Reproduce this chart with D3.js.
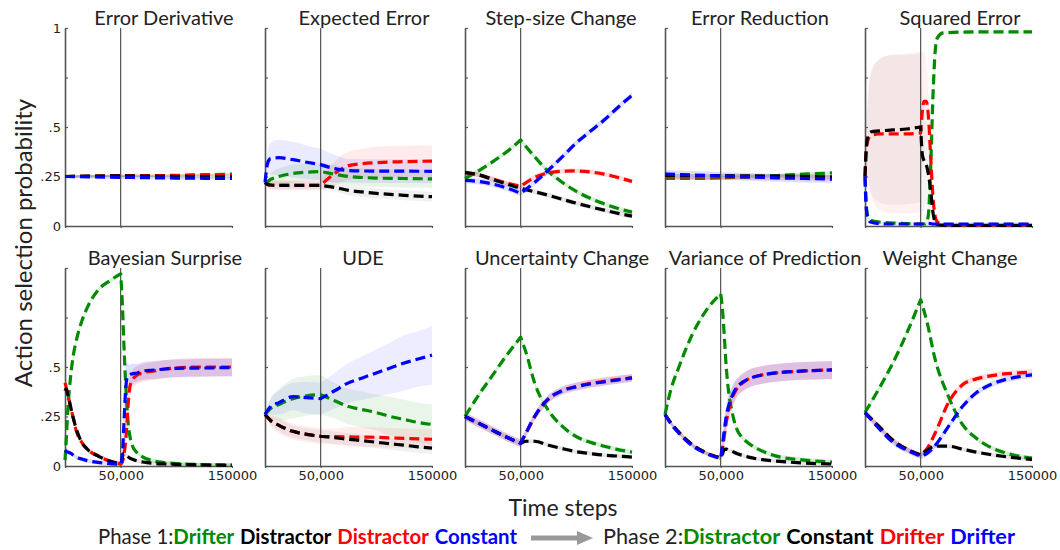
<!DOCTYPE html>
<html><head><meta charset="utf-8">
<script src="https://cdn.jsdelivr.net/npm/d3@7"></script>
<style>body{margin:0;background:#fff}svg{display:block}</style>
</head><body><svg id="chart" width="1060" height="550"></svg>
<script>
// ---------------- DATA ----------------
const panelTitles = ["Error Derivative","Expected Error","Step-size Change","Error Reduction","Squared Error",
  "Bayesian Surprise","UDE","Uncertainty Change","Variance of Prediction","Weight Change"];
const seriesNames = ["green","black","red","blue"];
const seriesColors = ["#008a00","#000000","#ff0000","#0000ff"];
const yTickValues = [0, 0.25, 0.5, 0.75, 1];
const yTickLabelsTop = ["0", ".25", ".5", "", "1"];
const yTickLabelsBottom = ["0", ".25", ".5", "", ""];
const xTickValues = [0, 50000, 150000];
const xTickLabels = ["", "50,000", "150000"];
const legendWords1 = ["Phase 1:", "Drifter", "Distractor", "Distractor", "Constant"];
const legendWords2 = ["Phase 2:", "Distractor", "Constant", "Drifter", "Drifter"];

// series order in each mean/spread list: green, black, red, blue
const tErrDeriv = [0, 25000, 50000, 75000, 100000, 125000, 150000];
const meanErrDeriv = [
  [0.25,0.251,0.252,0.254,0.256,0.259,0.262],
  [0.25,0.252,0.253,0.252,0.25,0.249,0.248],
  [0.25,0.252,0.254,0.255,0.255,0.256,0.257],
  [0.25,0.248,0.246,0.244,0.242,0.241,0.24]];
const spreadErrDeriv = [0.006,0.006,0.006,0.008];

const tExpErr = [0, 2500, 5000, 12500, 25000, 37500, 50000, 62500, 75000, 87500, 100000, 125000, 150000];
const meanExpErr = [
  [0.22,0.225,0.235,0.25,0.265,0.272,0.275,0.262,0.25,0.245,0.242,0.24,0.238],
  [0.22,0.21,0.207,0.205,0.205,0.205,0.205,0.195,0.18,0.172,0.165,0.155,0.148],
  [0.22,0.21,0.207,0.205,0.205,0.205,0.205,0.265,0.305,0.315,0.32,0.325,0.328],
  [0.22,0.32,0.34,0.345,0.335,0.322,0.31,0.29,0.28,0.278,0.277,0.277,0.276]];
const spreadExpErr = [
  [0.005,0.02,0.03,0.04,0.045,0.045,0.045,0.045,0.045,0.045,0.045,0.045,0.045],
  [0.005,0.015,0.02,0.02,0.02,0.02,0.02,0.02,0.025,0.025,0.025,0.025,0.025],
  [0.005,0.015,0.02,0.025,0.025,0.025,0.025,0.06,0.07,0.075,0.08,0.08,0.08],
  [0.005,0.06,0.08,0.09,0.09,0.085,0.08,0.07,0.06,0.06,0.06,0.06,0.06]];

const tStep = [0, 12500, 25000, 37500, 50000, 62500, 75000, 87500, 100000, 112500, 125000, 137500, 150000];
const meanStep = [
  [0.24,0.28,0.325,0.375,0.434,0.35,0.275,0.22,0.175,0.14,0.112,0.088,0.07],
  [0.27,0.258,0.235,0.212,0.19,0.173,0.155,0.135,0.115,0.097,0.08,0.064,0.05],
  [0.27,0.258,0.237,0.217,0.2,0.245,0.268,0.277,0.278,0.273,0.262,0.245,0.225],
  [0.23,0.225,0.212,0.192,0.165,0.22,0.283,0.35,0.42,0.478,0.535,0.6,0.66]];
const spreadStep = [0.012,0.012,0.012,0.015];

const tErrRed = [0, 25000, 50000, 75000, 100000, 125000, 150000];
const meanErrRed = [
  [0.24,0.24,0.243,0.248,0.255,0.262,0.268],
  [0.255,0.255,0.255,0.253,0.252,0.25,0.248],
  [0.248,0.248,0.248,0.248,0.247,0.246,0.245],
  [0.262,0.258,0.253,0.248,0.243,0.24,0.237]];
const spreadErrRed = [0.008,0.008,0.015,0.02];

const tSqErr = [0, 1000, 2500, 5000, 12500, 25000, 37500, 50000, 51500, 53000, 55000, 57000, 59000, 61000, 63000, 65000, 70000, 80000, 100000, 150000];
const meanSqErr = [
  [0.25,0.12,0.05,0.03,0.02,0.015,0.012,0.01,0.01,0.01,0.015,0.06,0.3,0.65,0.88,0.95,0.975,0.978,0.98,0.98],
  [0.25,0.38,0.45,0.475,0.48,0.485,0.49,0.5,0.36,0.33,0.31,0.26,0.18,0.07,0.02,0.008,0.004,0.003,0.003,0.003],
  [0.25,0.37,0.43,0.455,0.465,0.465,0.465,0.47,0.58,0.63,0.63,0.55,0.35,0.15,0.05,0.02,0.008,0.006,0.005,0.005],
  [0.25,0.1,0.04,0.02,0.012,0.01,0.01,0.01,0.01,0.01,0.012,0.014,0.012,0.01,0.01,0.01,0.01,0.01,0.01,0.01]];
const spreadSqErr = [
  [0,0.03,0.02,0.01,0.01,0.01,0.01,0.01,0.01,0.01,0.02,0.05,0.1,0.1,0.05,0.02,0.01,0.01,0.01,0.01],
  [0,0.1,0.2,0.3,0.36,0.38,0.38,0.38,0.3,0.25,0.2,0.15,0.1,0.05,0.02,0.01,0.005,0.005,0.005,0.005],
  [0,0.1,0.2,0.3,0.38,0.4,0.4,0.4,0.3,0.25,0.2,0.15,0.1,0.05,0.02,0.01,0.005,0.005,0.005,0.005],
  [0,0.03,0.02,0.01,0.01,0.01,0.01,0.01,0.01,0.01,0.01,0.01,0.01,0.01,0.01,0.01,0.01,0.01,0.01,0.01]];

const tBayes = [0, 1000, 2500, 5000, 7500, 10000, 15000, 20000, 30000, 40000, 50000, 51000, 52000, 53000, 54000, 55000, 56000, 57000, 58000, 60000, 65000, 70000, 80000, 90000, 100000, 125000, 150000];
const meanBayes = [
  [0.03,0.12,0.28,0.45,0.56,0.63,0.73,0.8,0.89,0.935,0.97,0.88,0.75,0.6,0.47,0.36,0.27,0.2,0.16,0.11,0.065,0.045,0.025,0.017,0.012,0.007,0.005],
  [0.38,0.39,0.36,0.3,0.24,0.19,0.12,0.085,0.05,0.025,0.012,0.03,0.055,0.065,0.06,0.055,0.05,0.045,0.04,0.035,0.025,0.02,0.013,0.01,0.008,0.005,0.003],
  [0.42,0.4,0.36,0.3,0.24,0.18,0.12,0.085,0.05,0.025,0.01,0.015,0.03,0.06,0.1,0.16,0.25,0.33,0.39,0.43,0.46,0.47,0.48,0.49,0.495,0.5,0.5],
  [0.08,0.075,0.07,0.065,0.055,0.045,0.035,0.027,0.018,0.012,0.008,0.03,0.1,0.22,0.34,0.42,0.45,0.455,0.46,0.465,0.47,0.48,0.485,0.49,0.493,0.495,0.497]];
const spreadBayes = [0.01, 0.01,
  [0.06,0.04,0.03,0.02,0.02,0.015,0.01,0.01,0.01,0.01,0.01,0.01,0.02,0.04,0.05,0.06,0.06,0.06,0.05,0.05,0.045,0.045,0.045,0.045,0.045,0.045,0.045],
  [0.02,0.02,0.015,0.01,0.01,0.01,0.01,0.01,0.01,0.01,0.01,0.05,0.1,0.12,0.12,0.1,0.07,0.06,0.05,0.05,0.045,0.045,0.045,0.045,0.045,0.045,0.045]];

const tUDE = [0, 5000, 12500, 25000, 37500, 50000, 62500, 75000, 87500, 100000, 112500, 125000, 137500, 150000];
const meanUDE = [
  [0.26,0.29,0.31,0.34,0.355,0.36,0.33,0.3,0.285,0.27,0.25,0.235,0.22,0.21],
  [0.26,0.23,0.205,0.175,0.16,0.15,0.143,0.135,0.128,0.12,0.112,0.105,0.097,0.09],
  [0.26,0.23,0.205,0.175,0.16,0.15,0.148,0.147,0.146,0.145,0.142,0.14,0.137,0.135],
  [0.26,0.3,0.32,0.35,0.345,0.34,0.38,0.42,0.445,0.47,0.495,0.52,0.54,0.56]];
const spreadUDE = [
  [0.01,0.05,0.08,0.1,0.1,0.1,0.09,0.09,0.09,0.09,0.1,0.1,0.1,0.1],
  [0.01,0.02,0.03,0.03,0.03,0.03,0.03,0.03,0.03,0.03,0.03,0.03,0.03,0.03],
  [0.01,0.03,0.04,0.04,0.04,0.04,0.04,0.05,0.05,0.05,0.05,0.05,0.05,0.05],
  [0.01,0.04,0.06,0.07,0.08,0.08,0.09,0.1,0.11,0.12,0.13,0.14,0.14,0.15]];

const tUncert = [0, 12500, 25000, 37500, 50000, 55000, 62500, 75000, 87500, 100000, 112500, 125000, 137500, 150000];
const meanUncert = [
  [0.25,0.36,0.46,0.56,0.65,0.57,0.42,0.28,0.2,0.148,0.12,0.1,0.083,0.07],
  [0.25,0.215,0.18,0.145,0.115,0.125,0.125,0.105,0.088,0.072,0.063,0.055,0.05,0.045],
  [0.25,0.215,0.18,0.145,0.115,0.168,0.248,0.338,0.382,0.402,0.417,0.428,0.437,0.445],
  [0.25,0.215,0.18,0.145,0.115,0.17,0.25,0.34,0.38,0.4,0.415,0.425,0.435,0.445]];
const spreadUncert = [0.012,0.01,0.02,0.02];

const tVarPred = [0, 5000, 12500, 25000, 37500, 50000, 51500, 53000, 55000, 57500, 60000, 62500, 65000, 70000, 75000, 87500, 100000, 125000, 150000];
const meanVarPred = [
  [0.26,0.38,0.5,0.67,0.79,0.87,0.8,0.68,0.5,0.36,0.28,0.22,0.18,0.14,0.115,0.075,0.05,0.03,0.02],
  [0.26,0.22,0.17,0.105,0.065,0.04,0.06,0.08,0.085,0.08,0.075,0.068,0.062,0.053,0.045,0.032,0.025,0.015,0.01],
  [0.26,0.22,0.17,0.105,0.065,0.04,0.08,0.14,0.22,0.29,0.34,0.37,0.395,0.42,0.44,0.46,0.47,0.48,0.485],
  [0.26,0.215,0.165,0.1,0.062,0.038,0.1,0.17,0.25,0.31,0.35,0.38,0.4,0.425,0.44,0.46,0.47,0.48,0.485]];
const spreadVarPred = [0.012, 0.01,
  [0.01,0.01,0.01,0.01,0.01,0.01,0.03,0.05,0.06,0.06,0.05,0.05,0.045,0.045,0.045,0.045,0.045,0.045,0.045],
  [0.01,0.01,0.01,0.01,0.01,0.01,0.03,0.05,0.06,0.06,0.05,0.05,0.045,0.045,0.045,0.045,0.045,0.045,0.045]];

const tWeight = [0, 12500, 25000, 37500, 50000, 56000, 62500, 75000, 87500, 100000, 112500, 125000, 137500, 150000];
const meanWeight = [
  [0.27,0.39,0.52,0.67,0.84,0.72,0.55,0.35,0.21,0.14,0.095,0.068,0.05,0.04],
  [0.27,0.2,0.13,0.085,0.055,0.08,0.1,0.1,0.085,0.07,0.058,0.048,0.04,0.033],
  [0.27,0.2,0.13,0.085,0.055,0.09,0.16,0.32,0.41,0.44,0.455,0.465,0.47,0.475],
  [0.27,0.19,0.12,0.08,0.05,0.065,0.1,0.2,0.3,0.37,0.41,0.435,0.45,0.46]];
const spreadWeight = [0.012,0.01,0.015,0.015];

// table built from the arrays above
const panels = [
  [tErrDeriv, meanErrDeriv, spreadErrDeriv],
  [tExpErr, meanExpErr, spreadExpErr],
  [tStep, meanStep, spreadStep],
  [tErrRed, meanErrRed, spreadErrRed],
  [tSqErr, meanSqErr, spreadSqErr],
  [tBayes, meanBayes, spreadBayes],
  [tUDE, meanUDE, spreadUDE],
  [tUncert, meanUncert, spreadUncert],
  [tVarPred, meanVarPred, spreadVarPred],
  [tWeight, meanWeight, spreadWeight]
].map((p, i) => ({ title: panelTitles[i], t: p[0], mean: p[1], spread: p[2] }));

// ---------------- DRAW ----------------
const svg = d3.select("#chart");
const W = 167, H = 198;
const colLeft = c => 65 + 200 * c;
const rowTop = r => 28 + 240 * r;
const SWITCH = 50000;
const drawOrder = [0, 2, 1, 3];
const bandOpacity = [0.15, 0.1, 0.13, 0.13];
const panelHaze = [1, 0.6, 1, 1, 0.42, 1, 0.55, 1, 1, 1];
const titleOffset = [99, 99, 96, 95, 95, 100, 98, 97, 100, 85];
const titleFont = "Lato, 'Open Sans', sans-serif";
const tickFont = "'DejaVu Sans', sans-serif";

panels.forEach((p, i) => {
  const col = i % 5, row = Math.floor(i / 5);
  const left = colLeft(col), top = rowTop(row);
  const x = d3.scaleLinear().domain([0, 150000]).range([left, left + W]);
  const y = d3.scaleLinear().domain([0, 1]).range([top + H, top]);
  const g = svg.append("g");

  const lineGen = d3.line().x(d => x(d[0])).y(d => y(d[1])).curve(d3.curveMonotoneX);
  const areaGen = d3.area().x(d => x(d[0])).y0(d => y(Math.max(0, d[1] - d[2]))).y1(d => y(Math.min(1, d[1] + d[2]))).curve(d3.curveMonotoneX);

  const pts = p.mean.map((vals, k) => vals.map((v, j) => {
    const s = Array.isArray(p.spread[k]) ? p.spread[k][j] : p.spread[k];
    return [p.t[j], v, s];
  }));
  const ph1 = a => a.filter(d => d[0] <= SWITCH);
  const ph2 = a => a.filter(d => d[0] >= SWITCH);

  // faint spread of the individual runs
  drawOrder.forEach(k => {
    g.append("path")
      .attr("d", areaGen(ph1(pts[k])) + areaGen(ph2(pts[k])))
      .attr("fill", seriesColors[k]).attr("fill-opacity", bandOpacity[k] * panelHaze[i]).attr("stroke", "none");
  });

  // phase switch line
  g.append("line").attr("x1", x(SWITCH)).attr("x2", x(SWITCH)).attr("y1", y(1)).attr("y2", y(0))
    .attr("stroke", "#444").attr("stroke-width", 1.1);

  // axes
  const yLabels = row === 0 ? yTickLabelsTop : yTickLabelsBottom;
  const yAxis = d3.axisLeft(y).tickValues(yTickValues).tickSize(-3).tickSizeOuter(0).tickPadding(4)
    .tickFormat((d, j) => col === 0 ? yLabels[j] : "");
  const ya = g.append("g").attr("transform", `translate(${left},0)`).call(yAxis);
  const xAxis = d3.axisBottom(x).tickValues(xTickValues).tickSize(2).tickSizeOuter(0).tickPadding(3)
    .tickFormat((d, j) => row === 1 ? xTickLabels[j] : "");
  const xa = g.append("g").attr("transform", `translate(0,${top + H})`).call(xAxis);
  [ya, xa].forEach(a => {
    a.select(".domain").attr("stroke", "#555").attr("stroke-width", 1.6);
    a.selectAll(".tick line").attr("stroke", "#555").attr("stroke-width", 1.2);
    a.selectAll(".tick text").attr("font-family", tickFont).attr("font-size", 13).attr("fill", "#222");
  });

  // mean lines
  drawOrder.forEach(k => {
    g.append("path")
      .attr("d", lineGen(ph1(pts[k])) + lineGen(ph2(pts[k])).replace(/^M/, "L"))
      .attr("fill", "none").attr("stroke", seriesColors[k]).attr("stroke-width", 3.2)
      .attr("stroke-dasharray", "10,5").attr("stroke-linejoin", "round");
  });

  // title
  g.append("text").attr("x", left + titleOffset[i]).attr("y", top - 3).attr("text-anchor", "middle")
    .attr("font-family", titleFont).attr("font-size", 20).attr("fill", "#222").text(p.title);
});

// axis titles
svg.append("text").attr("transform", "translate(32,243) rotate(-90)").attr("text-anchor", "middle")
  .attr("font-family", titleFont).attr("font-size", 24).attr("fill", "#222").text("Action selection probability");
svg.append("text").attr("x", 563).attr("y", 516).attr("text-anchor", "middle")
  .attr("font-family", titleFont).attr("font-size", 23).attr("fill", "#222").text("Time steps");

// legend: font size chosen so each phase fills its span with ~6px gaps between words
const legendColors = ["#222", seriesColors[0], seriesColors[1], seriesColors[2], seriesColors[3]];
function legendText(words, x0, x1) {
  const base = 20, gap = 6;
  const t = svg.append("text").attr("x", x0).attr("y", 544).attr("font-family", titleFont).attr("font-size", base)
    .style("white-space", "pre");
  const spans = words.map((w, j) => t.append("tspan").attr("fill", legendColors[j])
    .attr("font-weight", j === 0 ? "normal" : "bold").text(w));
  const wNow = t.node().getComputedTextLength();
  const fs = Math.min(22.5, base * (x1 - x0 - 3 * gap) / wNow);
  t.attr("font-size", fs);
  const wNew = t.node().getComputedTextLength();
  const g2 = (x1 - x0 - wNew) / 3;
  spans.forEach((s, j) => { if (j > 1) s.attr("dx", g2); });
}
legendText(legendWords1, 98, 517);
legendText(legendWords2, 603, 1015);
svg.append("line").attr("x1", 531).attr("x2", 579).attr("y1", 538).attr("y2", 538).attr("stroke", "#999").attr("stroke-width", 5);
svg.append("path").attr("d", "M577,531 L593,538 L577,545 Z").attr("fill", "#999");
</script></body></html>
